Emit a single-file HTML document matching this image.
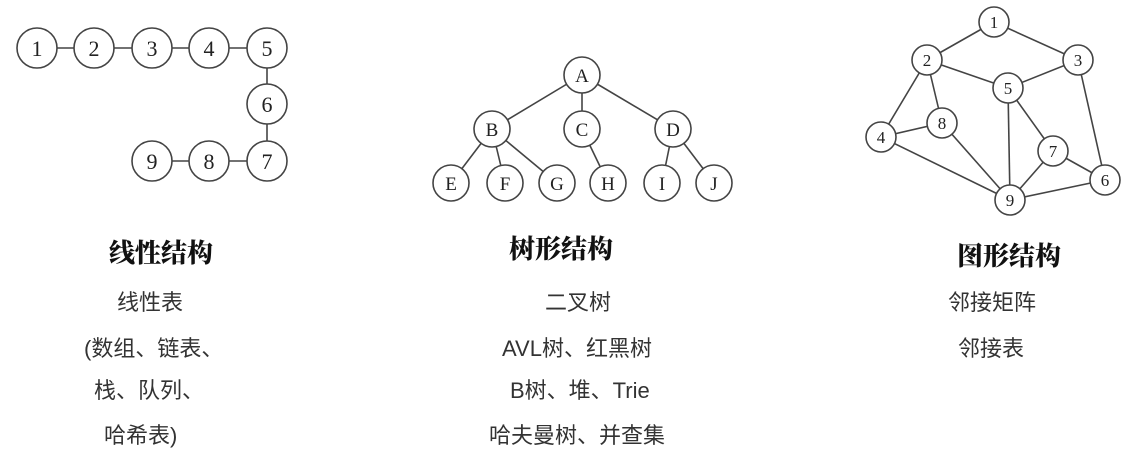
<!DOCTYPE html>
<html><head><meta charset="utf-8"><style>
html,body{margin:0;padding:0;background:#fff;}
body{width:1138px;height:456px;overflow:hidden;position:relative;font-family:"Liberation Sans","Noto Sans CJK SC",sans-serif;}
.t{position:absolute;font-size:22px;color:#333;white-space:nowrap;line-height:26px;}
.h{position:absolute;font-family:"Noto Serif CJK SC","Noto Sans CJK SC",serif;font-weight:900;font-size:26px;color:#111;white-space:nowrap;line-height:30px;}
</style></head><body>
<svg width="1138" height="456" style="position:absolute;left:0;top:0" font-family="Liberation Serif,serif" text-anchor="middle" fill="none">
<g stroke="#444" stroke-width="1.6">
<line x1="37" y1="48" x2="267" y2="48"/><line x1="267" y1="48" x2="267" y2="161"/><line x1="152" y1="161" x2="267" y2="161"/>
<line x1="582" y1="75" x2="492" y2="129"/><line x1="582" y1="75" x2="582" y2="129"/><line x1="582" y1="75" x2="673" y2="129"/>
<line x1="492" y1="129" x2="451" y2="183"/><line x1="492" y1="129" x2="505" y2="183"/><line x1="492" y1="129" x2="557" y2="183"/>
<line x1="582" y1="129" x2="608" y2="183"/><line x1="673" y1="129" x2="662" y2="183"/><line x1="673" y1="129" x2="714" y2="183"/>
<line x1="994" y1="22" x2="927" y2="60"/><line x1="994" y1="22" x2="1078" y2="60"/>
<line x1="927" y1="60" x2="1008" y2="88"/><line x1="1078" y1="60" x2="1008" y2="88"/>
<line x1="927" y1="60" x2="881" y2="137"/><line x1="927" y1="60" x2="942" y2="123"/>
<line x1="881" y1="137" x2="942" y2="123"/><line x1="881" y1="137" x2="1010" y2="200"/>
<line x1="942" y1="123" x2="1010" y2="200"/><line x1="1008" y1="88" x2="1010" y2="200"/>
<line x1="1008" y1="88" x2="1053" y2="151"/><line x1="1053" y1="151" x2="1010" y2="200"/>
<line x1="1053" y1="151" x2="1105" y2="180"/><line x1="1078" y1="60" x2="1105" y2="180"/>
<line x1="1010" y1="200" x2="1105" y2="180"/>
</g>
<g stroke="#444" stroke-width="1.6" fill="#fff">
<circle cx="37" cy="48" r="20"/><circle cx="94" cy="48" r="20"/><circle cx="152" cy="48" r="20"/><circle cx="209" cy="48" r="20"/><circle cx="267" cy="48" r="20"/>
<circle cx="267" cy="104" r="20"/><circle cx="267" cy="161" r="20"/><circle cx="209" cy="161" r="20"/><circle cx="152" cy="161" r="20"/>
<circle cx="582" cy="75" r="18"/><circle cx="492" cy="129" r="18"/><circle cx="582" cy="129" r="18"/><circle cx="673" cy="129" r="18"/>
<circle cx="451" cy="183" r="18"/><circle cx="505" cy="183" r="18"/><circle cx="557" cy="183" r="18"/><circle cx="608" cy="183" r="18"/><circle cx="662" cy="183" r="18"/><circle cx="714" cy="183" r="18"/>
<circle cx="994" cy="22" r="15"/><circle cx="927" cy="60" r="15"/><circle cx="1078" cy="60" r="15"/><circle cx="1008" cy="88" r="15"/>
<circle cx="942" cy="123" r="15"/><circle cx="881" cy="137" r="15"/><circle cx="1053" cy="151" r="15"/><circle cx="1105" cy="180" r="15"/><circle cx="1010" cy="200" r="15"/>
</g>
<g fill="#222" font-size="22">
<text x="37" y="56">1</text><text x="94" y="56">2</text><text x="152" y="56">3</text><text x="209" y="56">4</text><text x="267" y="56">5</text>
<text x="267" y="112">6</text><text x="267" y="169">7</text><text x="209" y="169">8</text><text x="152" y="169">9</text>
</g>
<g fill="#222" font-size="19">
<text x="582" y="82">A</text><text x="492" y="136">B</text><text x="582" y="136">C</text><text x="673" y="136">D</text>
<text x="451" y="190">E</text><text x="505" y="190">F</text><text x="557" y="190">G</text><text x="608" y="190">H</text><text x="662" y="190">I</text><text x="714" y="190">J</text>
</g>
<g fill="#222" font-size="17">
<text x="994" y="28">1</text><text x="927" y="66">2</text><text x="1078" y="66">3</text><text x="1008" y="94">5</text>
<text x="942" y="129">8</text><text x="881" y="143">4</text><text x="1053" y="157">7</text><text x="1105" y="186">6</text><text x="1010" y="206">9</text>
</g>
</svg>
<div class="h" style="left:109px;top:237px">线性结构</div>
<div class="h" style="left:509px;top:233px">树形结构</div>
<div class="h" style="left:957px;top:240px">图形结构</div>
<div class="t" style="left:117px;top:290px">线性表</div>
<div class="t" style="left:84px;top:336px">(数组、链表、</div>
<div class="t" style="left:94px;top:378px">栈、队列、</div>
<div class="t" style="left:104px;top:423px">哈希表)</div>
<div class="t" style="left:545px;top:290px">二叉树</div>
<div class="t" style="left:502px;top:336px">AVL树、红黑树</div>
<div class="t" style="left:510px;top:378px">B树、堆、Trie</div>
<div class="t" style="left:489px;top:423px">哈夫曼树、并查集</div>
<div class="t" style="left:948px;top:290px">邻接矩阵</div>
<div class="t" style="left:958px;top:336px">邻接表</div>
</body></html>
